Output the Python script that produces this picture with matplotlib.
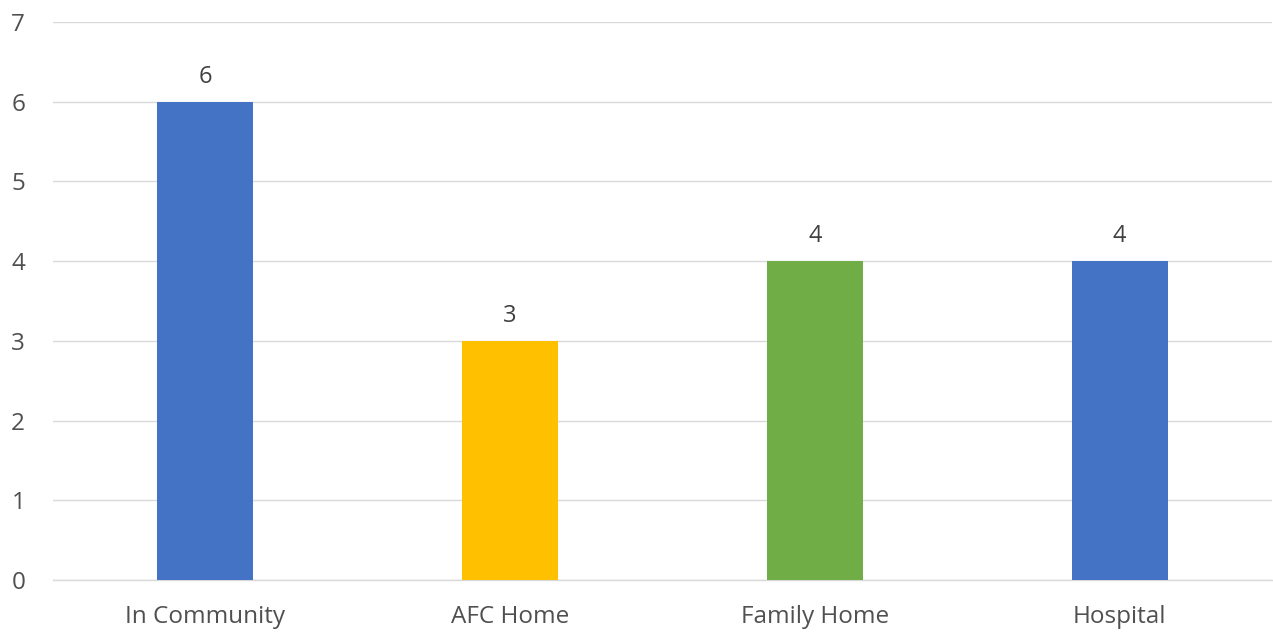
import matplotlib
matplotlib.use("Agg")
import matplotlib.pyplot as plt

categories = ["In Community", "AFC Home", "Family Home", "Hospital"]
values = [6, 3, 4, 4]
colors = ["#4472C4", "#FFC000", "#70AD47", "#4472C4"]
yticks = [0, 1, 2, 3, 4, 5, 6, 7]

plt.rcParams['font.family'] = ['Open Sans', 'DejaVu Sans']

fig = plt.figure(figsize=(12.73, 6.33), dpi=100)
ax = fig.add_axes([53/1273, 53/633, 1 - 53/1273 - 1/1273, (580-22)/633])

x = list(range(len(categories)))
bars = ax.bar(x, values, width=0.315, color=colors, zorder=3)
for xi, v in zip(x, values):
    ax.text(xi, v + 0.16, str(v), ha='center', va='bottom', fontsize=17, color='#404040')

ax.set_xlim(-0.5, len(categories) - 0.5)
ax.set_ylim(0, 7)
ax.set_yticks(yticks)
ax.set_yticklabels([str(t) for t in yticks])
ax.set_xticks(x)
ax.set_xticklabels(categories)
ax.tick_params(axis='both', length=0, labelsize=17.5, colors='#505050')
ax.tick_params(axis='y', pad=20)
ax.tick_params(axis='x', pad=18)
ax.yaxis.grid(True, color='#D9D9D9', linewidth=1, zorder=0)
for s in ['top', 'right', 'left']:
    ax.spines[s].set_visible(False)
ax.spines['bottom'].set_color('#D9D9D9')
ax.spines['bottom'].set_linewidth(1)

fig.savefig("out.png", dpi=100)
